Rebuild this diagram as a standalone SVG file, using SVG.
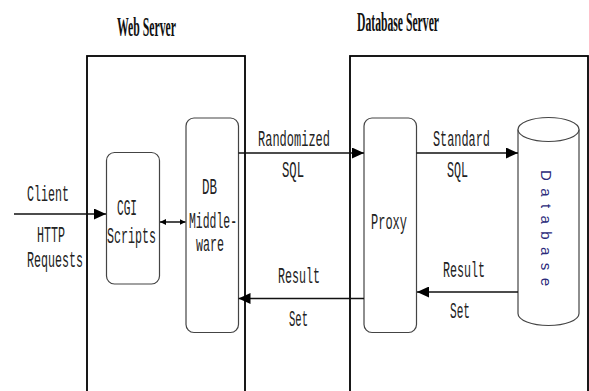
<svg xmlns="http://www.w3.org/2000/svg" width="589" height="391" viewBox="0 0 589 391">
  <style>
    .title { font-family: "Liberation Serif", "Times New Roman", serif; font-size: 27px; font-weight: bold; fill: #111; }
    .mono { font-family: "Liberation Mono", "Courier New", monospace; font-size: 22px; fill: #222; }
    .server { fill: none; stroke: #000; stroke-width: 1.8; }
    .comp { fill: #fff; stroke: #444; stroke-width: 1.2; }
    .link { fill: none; stroke: #111; stroke-width: 1.5; }
    .dbtext { font-family: "Liberation Sans", Arial, sans-serif; font-size: 15px; fill: #2a2a7a; }
  </style>
  <defs>
    <marker id="head" viewBox="0 0 12 11" refX="12" refY="5.5" markerWidth="12" markerHeight="11" markerUnits="userSpaceOnUse" orient="auto">
      <path d="M0,0 L12,5.5 L0,11 Z" fill="#000"/>
    </marker>
    <marker id="small" viewBox="0 0 6 6" refX="6" refY="3" markerWidth="6" markerHeight="6" markerUnits="userSpaceOnUse" orient="auto-start-reverse">
      <path d="M0,0 L6,3 L0,6 Z" fill="#000"/>
    </marker>
  </defs>

  <!-- server frames -->
  <g id="web-server">
    <rect class="server" x="87" y="56" width="158" height="360"/>
    <text class="title" x="117" y="36" textLength="59" lengthAdjust="spacingAndGlyphs">Web Server</text>
  </g>
  <g id="database-server">
    <rect class="server" x="350" y="56" width="238" height="360"/>
    <text class="title" x="357" y="31" textLength="82" lengthAdjust="spacingAndGlyphs">Database Server</text>
  </g>

  <!-- components -->
  <g id="cgi-scripts">
    <rect class="comp" x="106.5" y="152.5" width="53" height="131.5" rx="8"/>
    <text class="mono" x="117" y="215" textLength="20" lengthAdjust="spacingAndGlyphs">CGI</text>
    <text class="mono" x="107" y="243" textLength="49" lengthAdjust="spacingAndGlyphs">Scripts</text>
  </g>
  <g id="db-middleware">
    <rect class="comp" x="186" y="118" width="52.5" height="214.5" rx="8"/>
    <text class="mono" x="202" y="194" textLength="15" lengthAdjust="spacingAndGlyphs">DB</text>
    <text class="mono" x="189" y="228" textLength="48" lengthAdjust="spacingAndGlyphs">Middle-</text>
    <text class="mono" x="196" y="251" textLength="28" lengthAdjust="spacingAndGlyphs">ware</text>
  </g>
  <g id="proxy">
    <rect class="comp" x="364" y="118" width="52.5" height="214.5" rx="8"/>
    <text class="mono" x="371" y="229" textLength="36" lengthAdjust="spacingAndGlyphs">Proxy</text>
  </g>
  <g id="database">
    <path class="comp" d="M518,129.5 L518,313.5 A30.5,12 0 0 0 579,313.5 L579,129.5"/>
    <ellipse class="comp" cx="548.5" cy="129.5" rx="30.5" ry="12"/>
    <text class="dbtext" transform="translate(541,170) rotate(90)" textLength="116" lengthAdjust="spacing">Database</text>
  </g>

  <!-- connectors -->
  <g id="connectors">
    <path class="link" d="M14,214 L106,214" marker-end="url(#head)"/>
    <path class="link" d="M160,222 L185.5,222" marker-start="url(#small)" marker-end="url(#small)"/>
    <path class="link" d="M238.5,153 L364,153" marker-end="url(#head)"/>
    <path class="link" d="M416.5,153 L518,153" marker-end="url(#head)"/>
    <path class="link" d="M518,292 L417,292" marker-end="url(#head)"/>
    <path class="link" d="M364,298.5 L238.5,298.5" marker-end="url(#head)"/>
  </g>

  <!-- connector labels -->
  <g id="labels">
    <text class="mono" x="27" y="201" textLength="42" lengthAdjust="spacingAndGlyphs">Client</text>
    <text class="mono" x="37" y="242" textLength="28" lengthAdjust="spacingAndGlyphs">HTTP</text>
    <text class="mono" x="27" y="267" textLength="56" lengthAdjust="spacingAndGlyphs">Requests</text>
    <text class="mono" x="258" y="146" textLength="72" lengthAdjust="spacingAndGlyphs">Randomized</text>
    <text class="mono" x="282" y="177" textLength="22" lengthAdjust="spacingAndGlyphs">SQL</text>
    <text class="mono" x="433" y="146" textLength="57" lengthAdjust="spacingAndGlyphs">Standard</text>
    <text class="mono" x="447" y="177" textLength="21" lengthAdjust="spacingAndGlyphs">SQL</text>
    <text class="mono" x="443" y="276.5" textLength="42" lengthAdjust="spacingAndGlyphs">Result</text>
    <text class="mono" x="450" y="318" textLength="20" lengthAdjust="spacingAndGlyphs">Set</text>
    <text class="mono" x="278" y="283" textLength="42" lengthAdjust="spacingAndGlyphs">Result</text>
    <text class="mono" x="289" y="325.5" textLength="19" lengthAdjust="spacingAndGlyphs">Set</text>
  </g>
</svg>
